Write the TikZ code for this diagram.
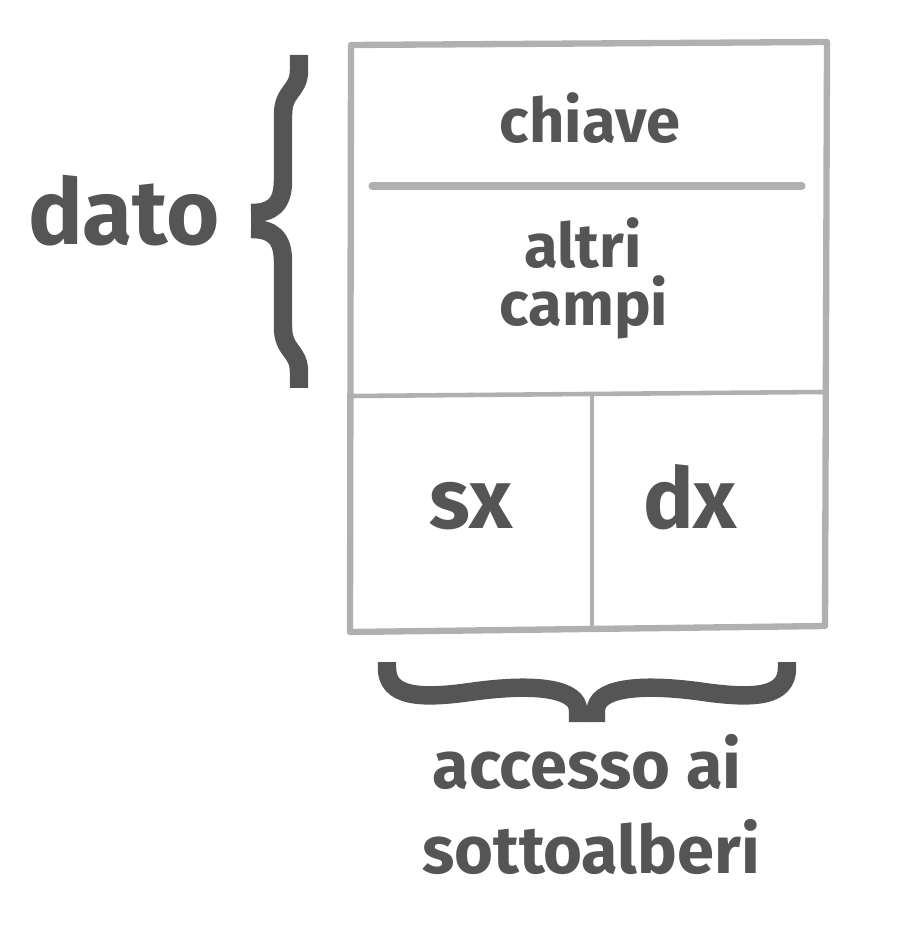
\documentclass[tikz,border=0pt]{standalone}
\usepackage{fontspec}
\setmainfont{Fira Sans}
\usetikzlibrary{positioning}
\definecolor{ink}{HTML}{555555}
\definecolor{frame}{HTML}{B0B0B0}
\tikzset{label text/.style={text=ink, font=\bfseries\fontsize{#1}{#1}\selectfont,
           inner sep=0pt, anchor=base},
         box line/.style={draw=frame, line width=#1},
         brace line/.style={draw=ink, line width=10.5pt, line cap=butt, line join=miter}}

\begin{document}
\begin{tikzpicture}[x=0.02cm, y=-0.02cm]
        \useasboundingbox (0,0) rectangle (899,928);

        % Box
        \coordinate (tl) at (351,45);
        \coordinate (tr) at (827,42);
        \coordinate (br) at (825,626);
        \coordinate (bl) at (350,632);
        \draw[box line=3.6pt, line join=round] (tl) -- (tr) -- (br) -- (bl) -- cycle;
        \draw[box line=4pt, line cap=round] (372,186) -- (802,186);
        \draw[box line=2.6pt] (352,396) -- (823,392);
        \draw[box line=2.6pt] (592,394) -- (592,629);

        % Braces
        \draw[brace line] (299,55) -- (299,70) .. controls (299,92) and (283,90) .. (283,115)
              -- (283,180) .. controls (283,205) and (272,213) .. (251,213);
        \draw[brace line] (299,388) -- (299,372) .. controls (299,350) and (283,352) .. (283,327)
              -- (283,262) .. controls (283,237) and (272,229) .. (251,229);
        \draw[brace line] (387,662) -- (387,668) .. controls (387,697) and (420,699) .. (470,692)
              .. controls (540,682) and (578,690) .. (578,710) -- (578,722);
        \draw[brace line] (787,662) -- (787,668) .. controls (787,697) and (754,699) .. (704,692)
              .. controls (634,682) and (596,690) .. (596,710) -- (596,722);

        % Labels
        \node[label text=52pt] (dato) at (124,245) {dato};
        \node[label text=35pt] (chiave) at (590,143) {chiave};
        \node[label text=35pt] (altri) at (583,268) {altri};
        \node[label text=35pt] (campi) at (584,326) {campi};
        \node[label text=48pt] (sx) at (471,528) {sx};
        \node[label text=48pt] (dx) at (690,528) {dx};
        \node[label text=38pt] (accesso) at (587,788) {accesso ai};
        \node[label text=38pt] (sotto) at (591,873) {sottoalberi};

\end{tikzpicture}
\end{document}
